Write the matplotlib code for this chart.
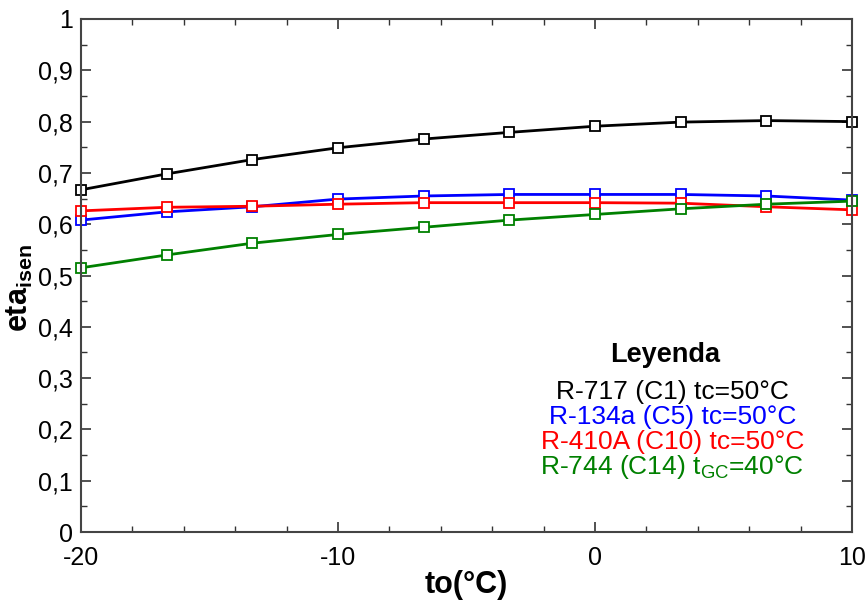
import matplotlib.pyplot as plt
from matplotlib.ticker import MultipleLocator, FuncFormatter

plt.rcParams['font.family'] = ['Liberation Sans', 'DejaVu Sans']
plt.rcParams['mathtext.fontset'] = 'custom'
plt.rcParams['mathtext.rm'] = 'Liberation Sans'
plt.rcParams['mathtext.bf'] = 'Liberation Sans:bold'
plt.rcParams['axes.unicode_minus'] = False

to = [-20, -16.67, -13.33, -10, -6.67, -3.33, 0, 3.33, 6.67, 10]
r717 = [0.667, 0.698, 0.726, 0.749, 0.766, 0.779, 0.791, 0.799, 0.802, 0.800]
r134a = [0.608, 0.624, 0.634, 0.649, 0.655, 0.658, 0.658, 0.658, 0.655, 0.647]
r410a = [0.626, 0.633, 0.635, 0.639, 0.642, 0.642, 0.642, 0.641, 0.634, 0.628]
r744 = [0.515, 0.540, 0.563, 0.580, 0.594, 0.608, 0.619, 0.630, 0.639, 0.645]

series = [
    (r717, 'black', 'R-717 (C1) tc=50°C'),
    (r134a, 'blue', 'R-134a (C5) tc=50°C'),
    (r410a, 'red', 'R-410A (C10) tc=50°C'),
    (r744, 'green', r'R-744 (C14) t$_{\mathrm{GC}}$=40°C'),
]

fig = plt.figure(figsize=(8.67, 6.03), dpi=100)
ax = fig.add_axes([0.0934, 0.1177, 0.8893, 0.8508])

for vals, col, lab in series:
    ax.plot(to, vals, '-', color=col, lw=2, marker='s', ms=7,
            mfc='white', mec=col, mew=1.3, clip_on=False)

ax.set_xlim(-20, 10)
ax.set_ylim(0, 1)
ax.xaxis.set_major_locator(MultipleLocator(10))
ax.xaxis.set_minor_locator(MultipleLocator(2))
ax.yaxis.set_major_locator(MultipleLocator(0.1))
ax.yaxis.set_minor_locator(MultipleLocator(0.05))
ax.yaxis.set_major_formatter(FuncFormatter(
    lambda v, p: '0' if abs(v) < 1e-9 else ('1' if abs(v - 1) < 1e-9 else f'{v:.1f}'.replace('.', ','))))
ax.tick_params(which='both', direction='in', right=True, top=True, labelsize=18,
               colors='#333333', labelcolor='black')
ax.tick_params(which='major', length=7, width=1.2)
ax.tick_params(which='minor', length=4, width=1.0)
ax.tick_params(axis='x', pad=10)
ax.tick_params(axis='y', pad=6)
for s in ax.spines.values():
    s.set_color('#444444')
    s.set_linewidth(1.5)

ax.set_xlabel('to(°C)', fontsize=22, fontweight='bold', labelpad=0)
ax.set_ylabel(r'$\mathbf{eta_{isen}}$', fontsize=22)
ax.yaxis.set_label_coords(-0.06, 0.475)

ax.text(0.757, 0.345, 'Leyenda', transform=ax.transAxes, ha='center', va='center',
        fontsize=19.5, fontweight='bold')
for i, (vals, col, lab) in enumerate(series):
    ax.text(0.767, 0.273 - i * 0.049, lab, transform=ax.transAxes, ha='center',
            va='center', fontsize=19, color=col)

fig.savefig('out.png', dpi=100)
